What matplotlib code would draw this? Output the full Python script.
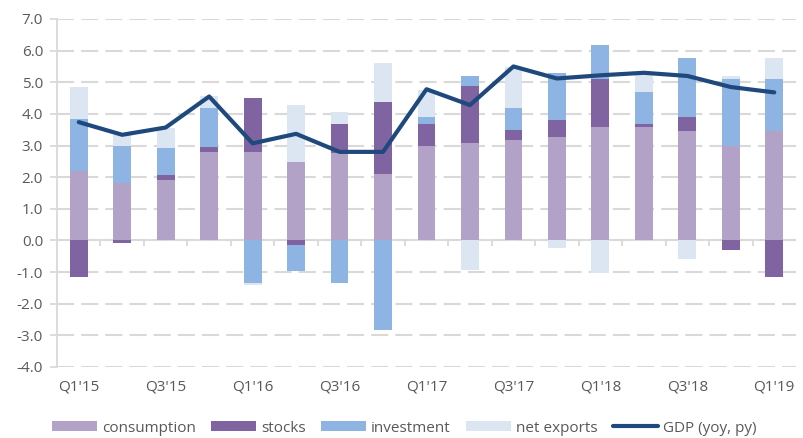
import numpy as np
import matplotlib
matplotlib.use('Agg')
import matplotlib.pyplot as plt

# quarters on the axis
quarters = ["Q1'15", "Q2'15", "Q3'15", "Q4'15", "Q1'16", "Q2'16", "Q3'16", "Q4'16",
            "Q1'17", "Q2'17", "Q3'17", "Q4'17", "Q1'18", "Q2'18", "Q3'18", "Q4'18", "Q1'19"]

# contributions to growth, pp
consumption = [2.20, 1.83, 1.90, 2.80, 2.80, 2.48, 2.78, 2.10, 2.98, 3.07, 3.18, 3.27, 3.58, 3.58, 3.47, 2.98, 3.46]
stocks = [-1.15, -0.08, 0.18, 0.14, 1.69, -0.13, 0.91, 2.28, 0.71, 1.81, 0.30, 0.53, 1.52, 0.11, 0.42, -0.31, -1.14]
investment = [1.63, 1.15, 0.85, 1.24, -1.33, -0.82, -1.33, -2.83, 0.21, 0.32, 0.71, 1.49, 1.08, 0.99, 1.89, 2.12, 1.63]
net_exports = [1.03, 0.34, 0.63, 0.38, -0.07, 1.79, 0.38, 1.22, 0.87, -0.94, 1.30, -0.23, -1.03, 0.58, -0.60, 0.10, 0.69]
gdp = [3.74, 3.34, 3.57, 4.55, 3.07, 3.37, 2.80, 2.80, 4.78, 4.28, 5.50, 5.12, 5.22, 5.30, 5.20, 4.85, 4.68]

series = [('consumption', consumption, '#B3A2C7'),
          ('stocks', stocks, '#8064A2'),
          ('investment', investment, '#8EB4E3'),
          ('net exports', net_exports, '#DCE6F2')]

plt.rcParams['font.family'] = ['Open Sans', 'DejaVu Sans']
text_color = '#595959'
grid_color = '#D9D9D9'

fig = plt.figure(figsize=(8.04, 4.38), dpi=100)
ax = fig.add_axes([57 / 804, 1 - 367 / 438, (796 - 57) / 804, (367 - 19) / 438])

x = np.arange(len(quarters))
pos_base = np.zeros(len(x))
neg_base = np.zeros(len(x))
handles = []
for name, vals, color in series:
    v = np.array(vals)
    bottom = np.where(v >= 0, pos_base, neg_base)
    h = ax.bar(x, v, 0.41, bottom=bottom, color=color, label=name, zorder=2)
    handles.append(h)
    pos_base += np.where(v >= 0, v, 0)
    neg_base += np.where(v < 0, v, 0)

line, = ax.plot(x, gdp, color='#1F497D', lw=3, label='GDP (yoy, py)', zorder=3,
                solid_joinstyle='round', solid_capstyle='round')
handles.append(line)

# zero line with category tick marks
ax.axhline(0, color=grid_color, lw=1.3, zorder=1)
ax.vlines(np.arange(0.5, len(x) - 1, 1), -0.17, 0, color=grid_color, lw=1.3, zorder=1)

ax.set_xlim(-0.5, len(x) - 0.5)
ax.set_ylim(-4, 7)
ax.set_yticks(np.arange(-4, 7.1, 1))
ax.set_yticklabels(['%.1f' % t for t in np.arange(-4, 7.1, 1)])
ax.set_xticks(x[::2])
ax.set_xticklabels(quarters[::2])

ax.yaxis.grid(True, color=grid_color, lw=1.5, linestyle=(0, (8.2, 3.4)), zorder=0)
ax.set_axisbelow(True)
for s in ['top', 'right', 'bottom']:
    ax.spines[s].set_visible(False)
ax.spines['left'].set_color(grid_color)
ax.spines['left'].set_linewidth(1.3)

ax.tick_params(axis='y', colors=grid_color, labelcolor=text_color, labelsize=11, length=5, width=1.3, pad=5)
ax.tick_params(axis='x', length=0, labelcolor=text_color, labelsize=11, pad=9)

fig.legend(handles=handles, loc='center left', bbox_to_anchor=(52 / 804, 1 - 428 / 438), ncol=5,
           frameon=False, fontsize=11, labelcolor=text_color, handlelength=2.94, handleheight=0.65,
           handletextpad=0.33, columnspacing=1.0, borderpad=0, borderaxespad=0)

fig.savefig('out.png', dpi=100)
